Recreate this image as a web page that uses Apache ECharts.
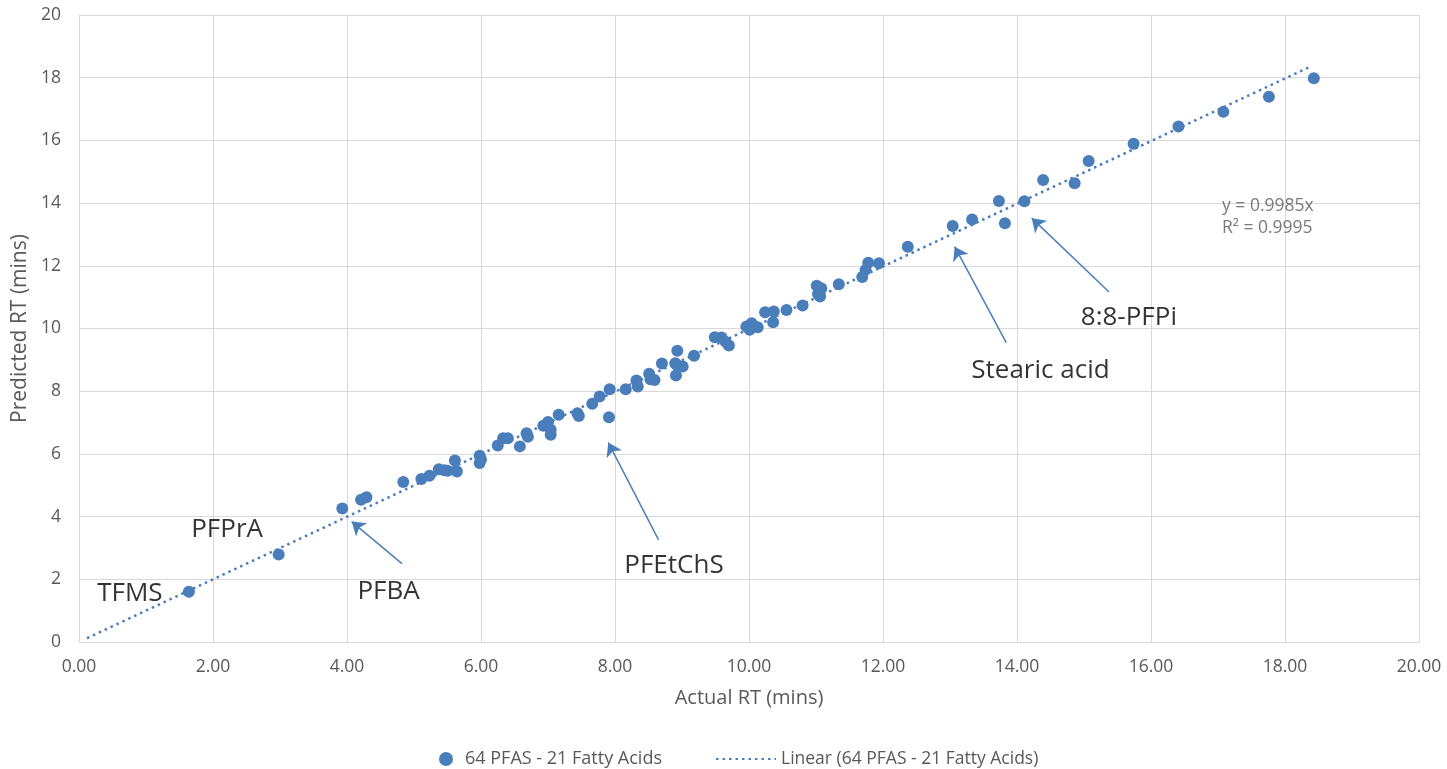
<!DOCTYPE html>
<html>
<head>
<meta charset="utf-8">
<script src="https://cdn.jsdelivr.net/npm/echarts@6/dist/echarts.min.js"></script>
<style>
  html, body { margin: 0; padding: 0; background: #fff; }
  #chart { width: 1447px; height: 769px; }
</style>
</head>
<body>
<div id="chart"></div>
<script>
// Actual vs predicted retention times (minutes)
const actualRT = [
  1.64, 2.98, 3.93, 4.21, 4.29, 4.84, 5.11, 5.23, 5.37, 5.45, 5.50, 5.61, 5.64,
  5.98, 5.98, 6.00, 6.25, 6.33, 6.40, 6.58, 6.68, 6.70, 6.93, 7.00, 7.04, 7.04,
  7.16, 7.44, 7.46, 7.66, 7.77, 7.92, 7.91, 8.16, 8.32, 8.34, 8.51, 8.53, 8.59,
  8.70, 8.90, 8.93, 8.92, 9.01, 8.91, 9.18, 9.49, 9.59, 9.65, 9.70, 9.96, 10.01,
  10.04, 10.13, 10.24, 10.37, 10.36, 10.56, 10.80, 11.01, 11.06, 11.08, 11.03,
  11.34, 11.69, 11.74, 11.78, 11.94, 12.37, 13.04, 13.33, 13.73, 13.82, 14.11,
  14.39, 14.86, 15.07, 15.74, 16.41, 17.08, 17.76, 18.43
];
const predictedRT = [
  1.60, 2.79, 4.26, 4.54, 4.62, 5.10, 5.20, 5.30, 5.51, 5.48, 5.46, 5.79, 5.44,
  5.94, 5.71, 5.82, 6.27, 6.50, 6.50, 6.24, 6.66, 6.55, 6.90, 7.02, 6.77, 6.61,
  7.25, 7.30, 7.21, 7.60, 7.83, 8.06, 7.17, 8.06, 8.34, 8.15, 8.56, 8.38, 8.36,
  8.88, 8.89, 9.29, 8.84, 8.79, 8.50, 9.13, 9.72, 9.71, 9.58, 9.46, 10.06, 9.96,
  10.17, 10.04, 10.52, 10.54, 10.20, 10.59, 10.73, 11.36, 11.02, 11.28, 11.10,
  11.41, 11.64, 11.87, 12.10, 12.08, 12.61, 13.27, 13.48, 14.07, 13.36, 14.06,
  14.74, 14.63, 15.34, 15.89, 16.44, 16.91, 17.39, 17.98
];

// Linear fit through the origin
const slope = 0.9985;
const rSquared = 0.9995;
const fitRange = [0.12, 18.40];

// Axis ticks
const xTicks = [0, 2, 4, 6, 8, 10, 12, 14, 16, 18, 20];
const yTicks = [0, 2, 4, 6, 8, 10, 12, 14, 16, 18, 20];

// Compound call-outs: label position and arrow (tail -> head), in data units
const calloutNames = ['TFMS', 'PFPrA', 'PFBA', 'PFEtChS', 'Stearic acid', '8:8-PFPi'];
const calloutLabelAt = [[0.76, 1.54], [2.21, 3.58], [4.62, 1.60], [8.88, 2.44], [14.35, 8.66], [15.67, 10.34]];
const arrowTails = [[4.82, 2.50], [8.65, 3.26], [13.84, 9.55], [15.37, 11.17]];
const arrowHeads = [[4.07, 3.84], [7.90, 6.36], [13.07, 12.61], [14.22, 13.52]];
const equationAt = [17.06, 13.56];

const seriesName = '64 PFAS - 21 Fatty Acids';
const trendName = 'Linear (64 PFAS - 21 Fatty Acids)';
const blue = '#4a7ebb';
const grey = '#595959';
const gridGrey = '#d9d9d9';
const font = '"Open Sans", "Noto Sans", sans-serif';

const points = actualRT.map((x, i) => [x, predictedRT[i]]);
const fitLine = fitRange.map(x => [x, slope * x]);

const calloutData = calloutNames.map((n, i) => ({ name: n, value: calloutLabelAt[i] }));
calloutData.push({
  name: 'y = ' + slope + 'x\nR² = ' + rSquared,
  value: equationAt,
  label: {
    align: 'left', fontSize: 17.5, color: grey, lineHeight: 22
  }
});

const legendText = { fontSize: 18, color: grey, fontFamily: font };

const chart = echarts.init(document.getElementById('chart'), null, { renderer: 'canvas' });
chart.setOption({
  animation: false,
  textStyle: { fontFamily: font },
  grid: { left: 79, right: 28, top: 15, bottom: 127, containLabel: false },
  legend: [
    {
      data: [{ name: seriesName, icon: 'circle' }],
      left: 434,
      top: 745,
      itemWidth: 14,
      itemHeight: 14,
      textStyle: Object.assign({ padding: [0, 0, 0, 7] }, legendText)
    },
    {
      data: [{ name: trendName, itemStyle: { opacity: 0 } }],
      left: 710,
      top: 745,
      itemWidth: 60,
      itemHeight: 14,
      textStyle: Object.assign({}, legendText, { fontSize: 17.5 })
    }
  ],
  xAxis: {
    type: 'value',
    min: xTicks[0],
    max: xTicks[xTicks.length - 1],
    interval: xTicks[1] - xTicks[0],
    name: 'Actual RT (mins)',
    nameLocation: 'middle',
    nameGap: 46,
    nameTextStyle: { fontSize: 20, color: grey },
    axisLine: { show: true, lineStyle: { color: gridGrey } },
    axisTick: { show: false },
    axisLabel: { fontSize: 17.5, color: grey, margin: 16, formatter: v => v.toFixed(2) },
    splitLine: { show: true, lineStyle: { color: gridGrey, width: 1 } }
  },
  yAxis: {
    type: 'value',
    min: yTicks[0],
    max: yTicks[yTicks.length - 1],
    interval: yTicks[1] - yTicks[0],
    name: 'Predicted RT (mins)',
    nameLocation: 'middle',
    nameGap: 44,
    nameTextStyle: { fontSize: 21, color: grey },
    axisLine: { show: true, lineStyle: { color: gridGrey } },
    axisTick: { show: false },
    axisLabel: { fontSize: 17.5, color: grey, margin: 18 },
    splitLine: { show: true, lineStyle: { color: gridGrey, width: 1 } }
  },
  series: [
    {
      name: trendName,
      type: 'line',
      data: fitLine,
      symbol: 'none',
      showSymbol: false,
      z: 1,
      lineStyle: { color: blue, width: 2.5, type: [2.5, 4], cap: 'butt' },
      itemStyle: { color: blue }
    },
    {
      name: seriesName,
      type: 'scatter',
      data: points,
      symbol: 'circle',
      symbolSize: 12,
      z: 3,
      itemStyle: { color: blue, opacity: 1 }
    },
    {
      name: 'callouts',
      type: 'scatter',
      data: calloutData,
      symbolSize: 0,
      silent: true,
      z: 4,
      label: {
        show: true,
        position: 'inside',
        formatter: p => p.name,
        fontSize: 26,
        color: '#000',
        fontFamily: font
      },
      markLine: {
        silent: true,
        symbol: ['none', 'arrow'],
        symbolSize: 13,
        label: { show: false },
        lineStyle: { color: blue, width: 1.5, type: 'solid' },
        itemStyle: { color: blue },
        data: arrowTails.map((t, i) => [{ coord: t }, { coord: arrowHeads[i] }])
      }
    }
  ]
});
</script>
</body>
</html>
